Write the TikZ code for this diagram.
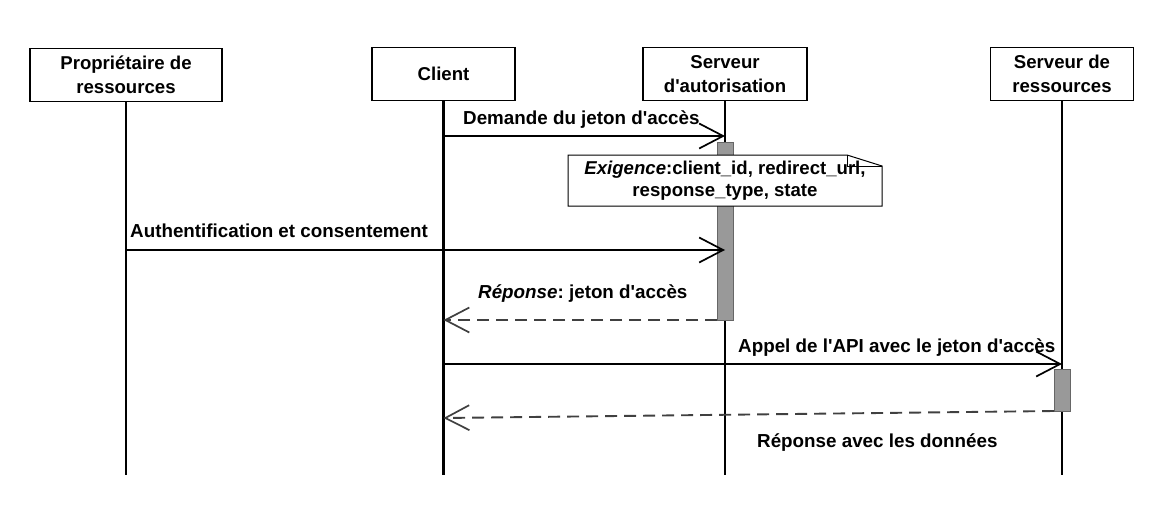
\documentclass[tikz,border=0pt]{standalone}
\usepackage{fontspec}
\setmainfont{Liberation Sans}[Ligatures=TeXOff]
\usetikzlibrary{arrows.meta}
\frenchspacing
\begin{document}
\begin{tikzpicture}[x=1pt,y=-1pt,
    actor/.style={draw,line width=1.6pt,minimum height=53pt,align=center,inner sep=0pt,
        font=\bfseries\fontsize{18.6}{24}\selectfont},
    msg/.style={inner sep=0pt,anchor=west,font=\bfseries\fontsize{18.8}{24}\selectfont},
    life/.style={line width=2.6pt},
    bar/.style={fill=black!40,draw=black!60,line width=0.8pt},
    call/.style={line width=1.4pt,-{Straight Barb[length=24pt,width=25pt,line width=1.7pt]}},
    back/.style={call,draw=black!75,line width=1.9pt,dash pattern=on 12pt off 7pt}]
    \useasboundingbox (0,0) rectangle (1150,506);
    \node[actor,minimum width=192pt] (prop) at (126,75) {Propriétaire de\\ressources};
    \node[actor,minimum width=143pt] (client) at (443.5,74) {Client};
    \node[actor,minimum width=164pt] (auth) at (725,74) {Serveur\\d'autorisation};
    \node[actor,minimum width=143pt] (res) at (1062,74) {Serveur de\\ressources};
    \coordinate (prop-end) at (126,475);
    \coordinate (client-end) at (443.5,475);
    \coordinate (auth-end) at (725,475);
    \coordinate (res-end) at (1062,475);
    \draw[life] (prop) -- (prop-end);
    \draw[life] (client) -- (client-end);
    \draw[life] (auth) -- (auth-end);
    \draw[life] (res) -- (res-end);
    \draw[bar] (717,142) rectangle (733,320);
    \draw[bar] (1054,369) rectangle (1070,411);
    \coordinate (c1) at (443.5,136);
    \coordinate (a1) at (725,136);
    \draw[call] (c1) -- (a1);
    \node[msg] (m1) at (463,120) {Demande du jeton d'accès};
    \draw[fill=white,line width=1pt] (568,155) -- (847,155) -- (882,166) -- (882,206) -- (568,206) -- cycle;
    \draw[line width=0.8pt] (847,155) -- (847,166) -- (882,166);
    \node[align=center,inner sep=0pt,font=\bfseries\fontsize{18.6}{22}\selectfont] (note) at (725,181)
        {\textit{Exigence}:client\_id, redirect\_url,\\response\_type, state};
    \coordinate (p2) at (126,250);
    \coordinate (a2) at (725,250);
    \draw[call] (p2) -- (a2);
    \node[msg] (m2) at (130,231) {Authentification et consentement};
    \coordinate (a3) at (717,320);
    \coordinate (c3) at (443.5,320);
    \draw[back] (a3) -- (c3);
    \node[msg] (m3) at (478,294) {\textit{Réponse}: jeton d'accès};
    \coordinate (c4) at (443.5,364);
    \coordinate (r4) at (1062,364);
    \draw[call] (c4) -- (r4);
    \node[msg] (m4) at (738,348) {Appel de l'API avec le jeton d'accès};
    \coordinate (r5) at (1054,411);
    \coordinate (c5) at (443.5,418);
    \draw[back] (r5) -- (c5);
    \node[msg] (m5) at (757,443) {Réponse avec les données};
\end{tikzpicture}
\end{document}
